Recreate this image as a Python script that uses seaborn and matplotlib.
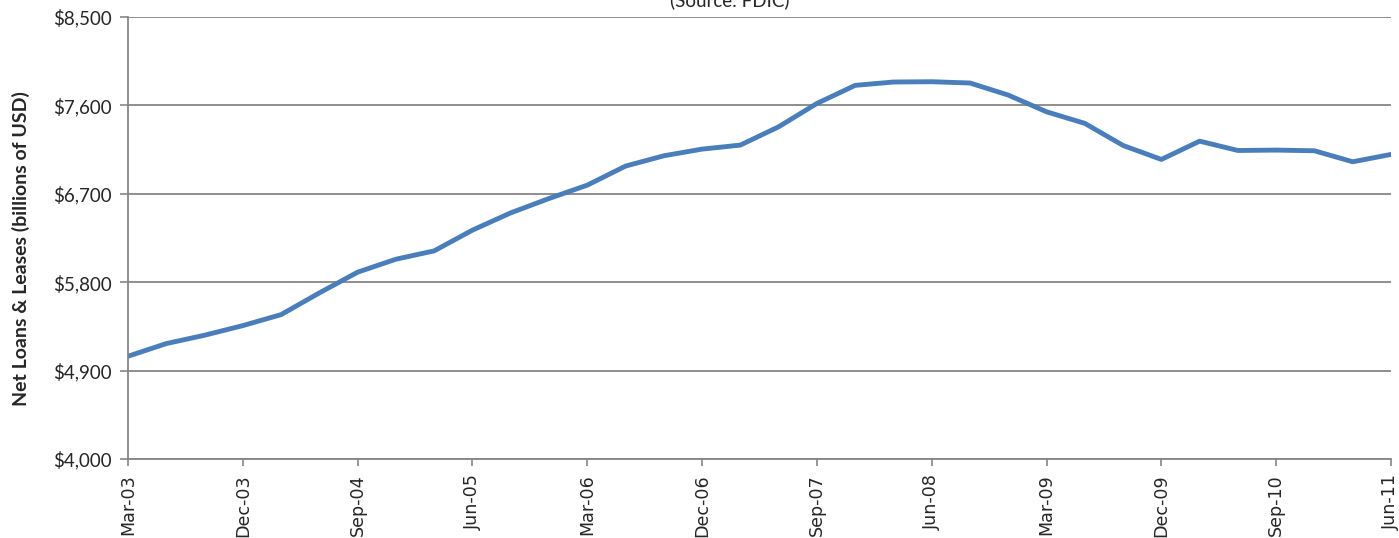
import matplotlib
matplotlib.use("Agg")
import matplotlib.pyplot as plt
import seaborn as sns
import pandas as pd
import numpy as np
from matplotlib.ticker import FuncFormatter

quarters = [
    "Mar-03", "Jun-03", "Sep-03", "Dec-03", "Mar-04", "Jun-04", "Sep-04", "Dec-04",
    "Mar-05", "Jun-05", "Sep-05", "Dec-05", "Mar-06", "Jun-06", "Sep-06", "Dec-06",
    "Mar-07", "Jun-07", "Sep-07", "Dec-07", "Mar-08", "Jun-08", "Sep-08", "Dec-08",
    "Mar-09", "Jun-09", "Sep-09", "Dec-09", "Mar-10", "Jun-10", "Sep-10", "Dec-10",
    "Mar-11", "Jun-11",
]
net_loans = [
    5046, 5175, 5260, 5358, 5470, 5691, 5902, 6034,
    6119, 6330, 6506, 6652, 6788, 6982, 7087, 7155,
    7196, 7382, 7620, 7804, 7838, 7841, 7828, 7705,
    7535, 7417, 7192, 7050, 7236, 7141, 7145, 7138,
    7026, 7101,
]
y_ticks = [4000, 4900, 5800, 6700, 7600, 8500]

df = pd.DataFrame({"pos": np.arange(len(quarters)), "quarter": quarters, "value": net_loans})

sns.set_style("white")
plt.rcParams["font.family"] = ["Lato", "DejaVu Sans"]

fig = plt.figure(figsize=(13.99, 5.38), dpi=100)
ax = fig.add_axes([128 / 1399, 1 - 459 / 538, (1391 - 128) / 1399, (459 - 17) / 538])

sns.lineplot(data=df, x="pos", y="value", ax=ax, color="#4A7EBB", linewidth=3.5)

ax.set_xlim(0, len(quarters) - 1)
ax.set_ylim(4000, 8500)
ax.set_yticks(y_ticks)
ax.yaxis.set_major_formatter(FuncFormatter(lambda v, p: f"${v:,.0f}"))
ax.set_xticks(df["pos"][::3])
ax.set_xticklabels(quarters[::3], rotation=90, fontsize=12.6, family="DejaVu Sans")
ax.tick_params(axis="y", labelsize=13.5, length=6, width=1.2, color="#868686", direction="out", left=True, pad=6)
ax.tick_params(axis="x", length=5, width=1.2, color="#868686", direction="out", bottom=True, pad=6)
ax.yaxis.grid(True, color="#868686", linewidth=1.3)
ax.xaxis.grid(False)
for s in ["top", "right"]:
    ax.spines[s].set_visible(False)
for s in ["left", "bottom"]:
    ax.spines[s].set_color("#868686")
    ax.spines[s].set_linewidth(1.3)
ax.set_xlabel("")
ax.set_ylabel("Net Loans & Leases (billions of USD)", fontsize=14, fontweight="bold")
ax.yaxis.set_label_coords(-(128 - 30) / (1391 - 128), (459 - 249) / (459 - 17))

fig.text(729.5 / 1399, 1 - 6 / 538, "(Source: FDIC)", ha="center", va="baseline", fontsize=13.5)

fig.savefig("out.png", dpi=100)
